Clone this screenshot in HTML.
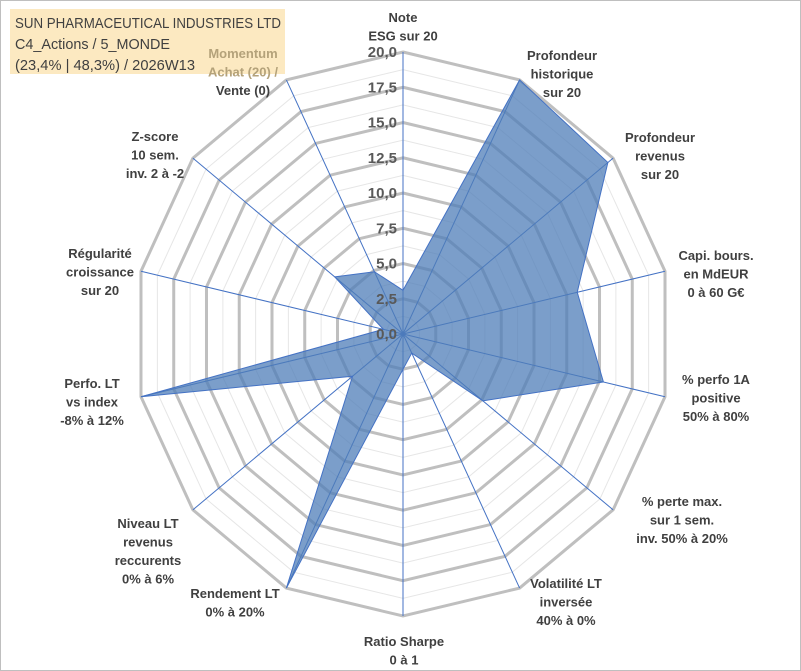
<!DOCTYPE html>
<html><head><meta charset="utf-8"><style>
body{margin:0;background:#fff}
svg{display:block;font-family:"Liberation Sans",Arial,sans-serif}
</style></head><body>
<svg id="chart" width="801" height="671" viewBox="0 0 801 671">
<rect x="0.5" y="0.5" width="800" height="670" fill="#fff" stroke="#bfbfbf"/>
<rect x="10" y="9" width="275" height="65" fill="#fbe5b6" opacity="0.85"/>
<g id="grid"></g><g id="axes"></g><g id="series"></g><g id="ticks"></g><g id="labels"></g>
<text x="15" y="28" font-size="15" fill="#404040" textLength="266" lengthAdjust="spacingAndGlyphs">SUN PHARMACEUTICAL INDUSTRIES LTD</text>
<text x="15" y="49" font-size="15" fill="#404040" textLength="155" lengthAdjust="spacingAndGlyphs">C4_Actions / 5_MONDE</text>
<text x="15" y="70" font-size="15" fill="#404040" textLength="180" lengthAdjust="spacingAndGlyphs">(23,4% | 48,3%) / 2026W13</text>
</svg>
<script>
const categories=[["Note","ESG sur 20"],["Profondeur","historique","sur 20"],["Profondeur","revenus","sur 20"],["Capi. bours.","en MdEUR","0 à 60 G€"],["% perfo 1A","positive","50% à 80%"],["% perte max.","sur 1 sem.","inv. 50% à 20%"],["Volatilité LT","inversée","40% à 0%"],["Ratio Sharpe","0 à 1"],["Rendement LT","0% à 20%"],["Niveau LT","revenus","reccurents","0% à 6%"],["Perfo. LT","vs index","-8% à 12%"],["Régularité","croissance","sur 20"],["Z-score","10 sem.","inv. 2 à -2"],["Momentum","Achat (20) /","Vente (0)"]];
const values=[3.1,20,19.5,13.3,15.3,7.6,1.5,2.5,20,4.8,20,1.5,6.5,4.9];
const tickLabels=["0,0","2,5","5,0","7,5","10,0","12,5","15,0","17,5","20,0"];
const tickValues=[0,2.5,5,7.5,10,12.5,15,17.5,20];
const labelPos=[[403,22],[562,60],[660,142],[716,260],[716,384],[682,506],[566,588],[404,646],[235,598],[148,528],[92,388],[100,258],[155,141],[243,58]];
const cx=403,cy=334,R=282,SX=0.953,maxV=20,N=categories.length;
const NS="http://www.w3.org/2000/svg";
function rad(v){return v/maxV*R;}
function pt(i,v){const a=i*2*Math.PI/N;return [cx+SX*rad(v)*Math.sin(a),cy-rad(v)*Math.cos(a)];}
function mk(t,attrs,parent){const e=document.createElementNS(NS,t);for(const k in attrs)e.setAttribute(k,attrs[k]);parent.appendChild(e);return e;}
const grid=document.getElementById('grid');
tickValues.forEach((tv)=>{if(tv===0)return;
 const mp=categories.map((c,i)=>pt(i,tv-1.25).join(',')).join(' ');
 const m=mk('polygon',{points:mp,fill:'none',stroke:'#e6e6e6','stroke-width':1},grid);
 
 
 const p=categories.map((c,i)=>pt(i,tv).join(',')).join(' ');
 const g=mk('polygon',{points:p,fill:'none',stroke:'#bfbfbf','stroke-width':3},grid);
 
 
});
const axes=document.getElementById('axes');
categories.forEach((c,i)=>{const p=pt(i,maxV);
 const l=mk('line',{x1:cx,y1:cy,x2:p[0],y2:p[1],stroke:'#4472c4','stroke-width':1},axes);
 
 });
const series=document.getElementById('series');
const poly=mk('polygon',{points:values.map((v,i)=>pt(i,v).join(',')).join(' '),fill:'#4f7db8','fill-opacity':0.75,stroke:'#4472c4','stroke-width':1},series);


const ticks=document.getElementById('ticks');
tickValues.forEach((tv,j)=>{const t=mk('text',{x:cx-6,y:cy-rad(tv)+5,'text-anchor':'end','font-size':15,'font-weight':'bold',fill:'#595959'},ticks);
 t.textContent=tickLabels[j];
 
 });
const labels=document.getElementById('labels');
categories.forEach((c,i)=>{const [x,y]=labelPos[i];
 const t=mk('text',{x:x,y:y,'text-anchor':'middle','font-size':13,'font-weight':'bold',fill:'#404040'},labels);
 c.forEach((line,k)=>{const ts=mk('tspan',{x:x,dy:k===0?0:18.5},t);ts.textContent=line;
  if(i===13&&k<2)ts.setAttribute('fill','#b4a27a');});
 
 });
</script>
</body></html>
